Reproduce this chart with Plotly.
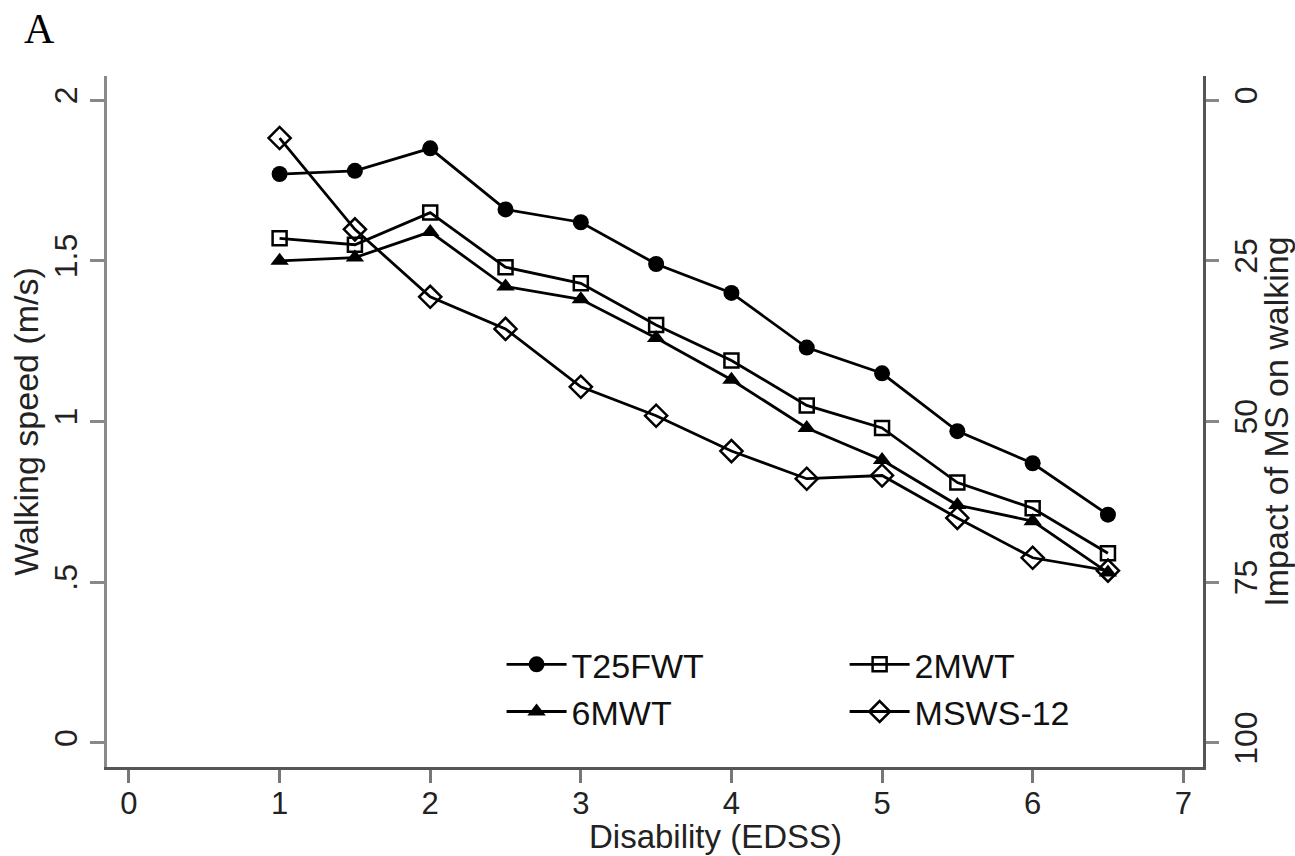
import plotly.graph_objects as go

edss = [1, 1.5, 2, 2.5, 3, 3.5, 4, 4.5, 5, 5.5, 6, 6.5]
t25fwt = [1.77, 1.78, 1.85, 1.66, 1.62, 1.49, 1.40, 1.23, 1.15, 0.97, 0.87, 0.71]
mwt2 = [1.57, 1.55, 1.65, 1.48, 1.43, 1.30, 1.19, 1.05, 0.98, 0.81, 0.73, 0.59]
mwt6 = [1.50, 1.51, 1.59, 1.42, 1.38, 1.26, 1.13, 0.98, 0.88, 0.74, 0.69, 0.53]
msws12 = [5.9, 20.1, 30.6, 35.6, 44.6, 49.1, 54.6, 58.9, 58.4, 65.0, 71.2, 73.2]

x_ticks = [0, 1, 2, 3, 4, 5, 6, 7]
left_ticks = [0, 0.5, 1, 1.5, 2]
left_ticktext = ["0", ".5", "1", "1.5", "2"]
right_ticks = [0, 25, 50, 75, 100]
right_ticktext = ["0", "25", "50", "75", "100"]

FONT = "Liberation Sans, Arial, sans-serif"
FS = 32
TFS = 34
LW = 2.8

fig = go.Figure()
fig.add_trace(go.Scatter(x=edss, y=t25fwt, name="T25FWT", mode="lines+markers",
                         line=dict(color="black", width=LW),
                         marker=dict(symbol="circle", size=16, color="black"),
                         legend="legend"))
fig.add_trace(go.Scatter(x=edss, y=mwt2, name="2MWT", mode="lines+markers",
                         line=dict(color="black", width=LW),
                         marker=dict(symbol="square-open", size=14, color="black",
                                     line=dict(width=2.5, color="black")),
                         legend="legend2"))
fig.add_trace(go.Scatter(x=edss, y=mwt6, name="6MWT", mode="lines+markers",
                         line=dict(color="black", width=LW),
                         marker=dict(symbol="triangle-up", size=16, color="black"),
                         legend="legend"))
fig.add_trace(go.Scatter(x=edss, y=msws12, name="MSWS-12", mode="lines+markers",
                         yaxis="y2",
                         line=dict(color="black", width=LW),
                         marker=dict(symbol="diamond-open", size=17, color="black",
                                     line=dict(width=2.5, color="black")),
                         legend="legend2"))

legend_common = dict(font=dict(family=FONT, size=TFS, color="#111111"),
                     bgcolor="rgba(0,0,0,0)", borderwidth=0,
                     orientation="v", xanchor="left", yanchor="top",
                     itemwidth=60)

fig.update_layout(
    width=1295, height=856,
    margin=dict(l=107, r=92, t=76, b=89, autoexpand=False),
    paper_bgcolor="white", plot_bgcolor="white",
    font=dict(family=FONT, size=FS, color="black"),
    showlegend=True,
    legend=dict(x=0.36, y=0.19, **legend_common),
    legend2=dict(x=0.673, y=0.19, **legend_common),
    xaxis=dict(range=[-0.146, 7.131], tickvals=x_ticks, ticktext=[str(v) for v in x_ticks],
               showgrid=False, zeroline=False, showline=True, linecolor="#555555", linewidth=3,
               ticks="outside", ticklen=13, tickwidth=2.5, tickcolor="#777777",
               ticklabelstandoff=-6,
               tickfont=dict(family=FONT, size=31, color="#222222")),
    yaxis=dict(range=[-0.075, 2.075], tickvals=left_ticks, ticktext=left_ticktext,
               tickangle=-90,
               showgrid=False, zeroline=False, showline=True, linecolor="#8a8a8a", linewidth=3,
               ticks="outside", ticklen=14, tickwidth=2.5, tickcolor="#888888",
               tickfont=dict(family=FONT, size=FS, color="#222222"),
               title=dict(text="Walking speed (m/s)", standoff=0,
                          font=dict(family=FONT, size=TFS, color="#222222"))),
    yaxis2=dict(range=[103.75, -3.75], overlaying="y", side="right",
                tickvals=right_ticks, ticktext=right_ticktext, tickangle=-90,
                showgrid=False, zeroline=False, showline=True, linecolor="#555555", linewidth=3,
                ticks="outside", ticklen=13, tickwidth=2.5, tickcolor="#888888",
                tickfont=dict(family=FONT, size=FS, color="#222222"),
                title=dict(text="Impact of MS on walking", standoff=5,
                           font=dict(family=FONT, size=TFS, color="#222222"))),
    annotations=[
        dict(text="A", xref="paper", yref="paper", x=-0.062, y=1.068,
             xanchor="center", yanchor="middle", showarrow=False,
             font=dict(family="Liberation Serif, Times New Roman, serif", size=42, color="black")),
        dict(text="Disability (EDSS)", xref="paper", yref="paper", x=0.555, y=-0.1,
             xanchor="center", yanchor="middle", showarrow=False,
             font=dict(family=FONT, size=33, color="#222222")),
    ],
)

fig.write_html("out.html", config={"displayModeBar": False},
               post_script="document.body.style.margin='0';document.body.style.overflow='hidden';")
